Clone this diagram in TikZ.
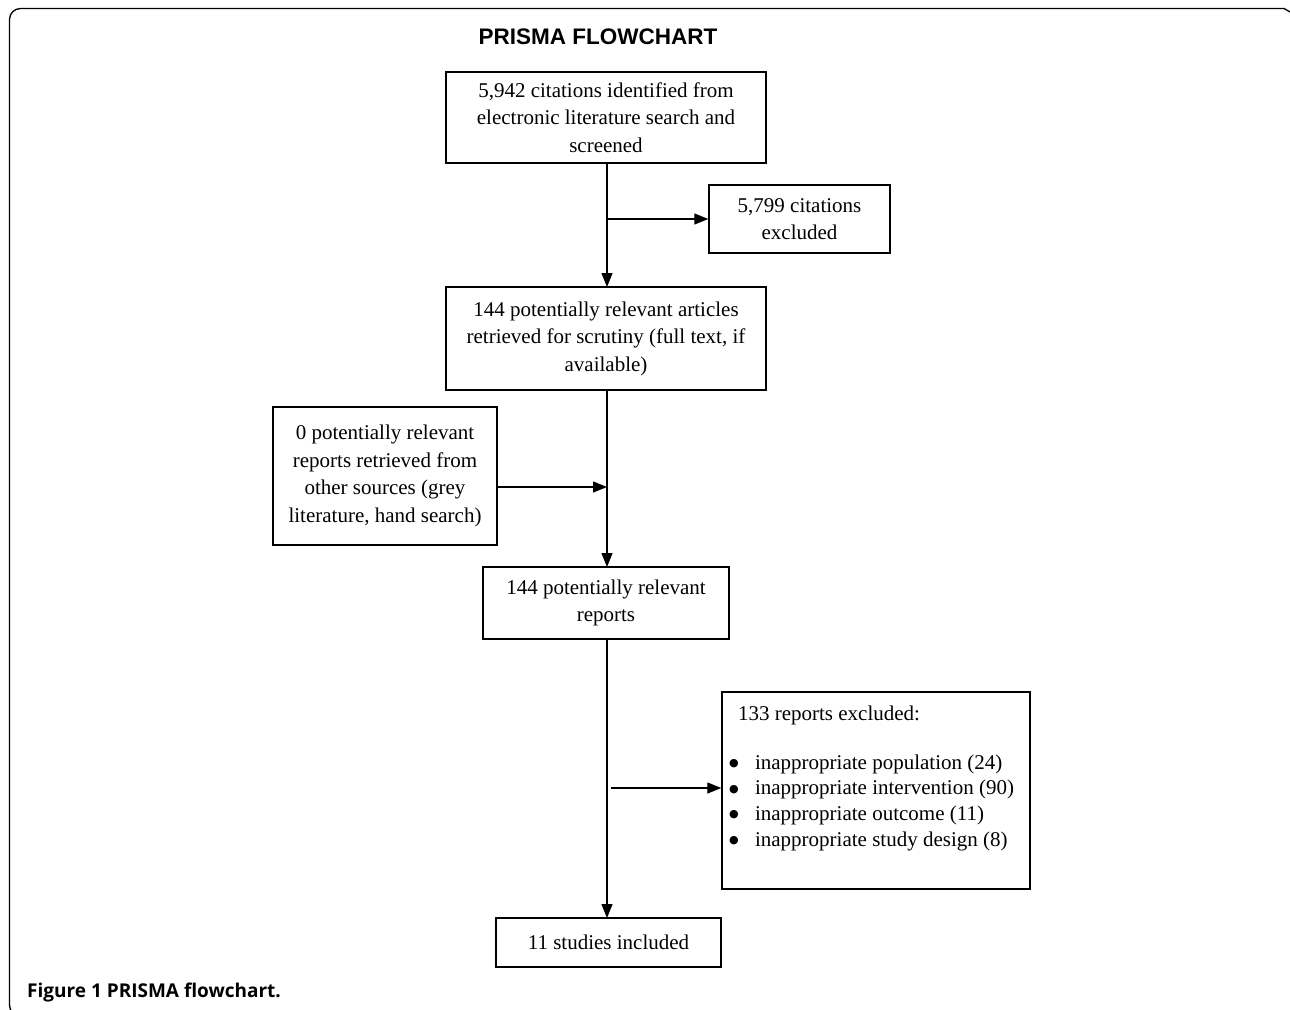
\documentclass[tikz,border=0pt]{standalone}
\usepackage{fontspec}
\setmainfont{Liberation Serif}
\newfontfamily\titlefont{Liberation Sans}
\newfontfamily\capfont{Open Sans}
\newfontfamily\symfont{DejaVu Sans}
\usetikzlibrary{arrows.meta,calc}
\newcommand{\bul}{\hspace*{-9pt}\makebox[26pt][l]{\raisebox{2.5pt}{\symfont\fontsize{11}{11}\selectfont ●}}}
\begin{document}
\begin{tikzpicture}[x=1pt,y=-1pt,
  box/.style={draw,line width=1.4pt,inner sep=0pt,align=center,
    font=\fontsize{21}{27.5}\selectfont},
  conn/.style={line width=1.3pt},
  arr/.style={conn,-{Triangle[length=14pt,width=11pt]}}]
\useasboundingbox (0,0) rectangle (1290,1009);
% frame
\draw[line width=1.3pt,rounded corners=11pt] (18,1016) -| (9.5,8.5) -- (1285,8.5);
\draw[line width=1.3pt] (1284,8.5) -- (1290,12);
% title
\node[anchor=base,inner sep=0pt,font=\titlefont\bfseries\fontsize{22.5}{26}\selectfont] (title) at (598,44) {PRISMA FLOWCHART};
% boxes
\node[box,minimum width=320,minimum height=91] (b1) at (606,117.5)
  {5,942 citations identified from\\electronic literature search and\\screened};
\node[box,minimum width=181,minimum height=68] (b2) at (799.5,219)
  {5,799 citations\\excluded};
\node[box,minimum width=320,minimum height=103] (b3) at (606,338.5)
  {144 potentially relevant articles\\retrieved for scrutiny (full text, if\\available)};
\node[box,minimum width=224,minimum height=138] (b4) at (385,476)
  {0 potentially relevant\\reports retrieved from\\other sources (grey\\literature, hand search)};
\node[box,minimum width=246,minimum height=72] (b5) at (606,603)
  {144 potentially relevant\\reports};
\node[box,minimum width=308,minimum height=197,align=left,
  font=\fontsize{21}{25.7}\selectfont] (b6) at (876,790.5)
  {133 reports excluded:\\[23pt]
   \bul inappropriate population (24)\\
   \bul inappropriate intervention (90)\\
   \bul inappropriate outcome (11)\\
   \bul inappropriate study design (8)\rule[-29pt]{0pt}{0pt}};
\node[box,minimum width=225,minimum height=49] (b7) at (608.5,942.5)
  {11 studies included};
% caption
\node[anchor=base west,font=\capfont\bfseries\fontsize{19}{22}\selectfont,inner sep=0pt] (cap) at (27,997)
  {Figure 1 PRISMA flowchart.};
% connectors
\coordinate (t1) at (607,163);
\coordinate (t3) at (607,287);
\coordinate (j1) at (607,219);
\draw[arr] (t1) -- (t3);
\draw[arr] (j1) -- (j1 -| b2.west);
\coordinate (t3b) at (607,390);
\coordinate (t5) at (607,567);
\draw[arr] (t3b) -- (t5);
\coordinate (j2) at (607,487);
\draw[arr] (j2 -| b4.east) -- (j2);
\coordinate (t5b) at (607,639);
\coordinate (t7) at (607,918);
\draw[arr] (t5b) -- (t7);
\coordinate (j3) at (611,788);
\draw[arr] (j3) -- (j3 -| b6.west);
\end{tikzpicture}
\end{document}
